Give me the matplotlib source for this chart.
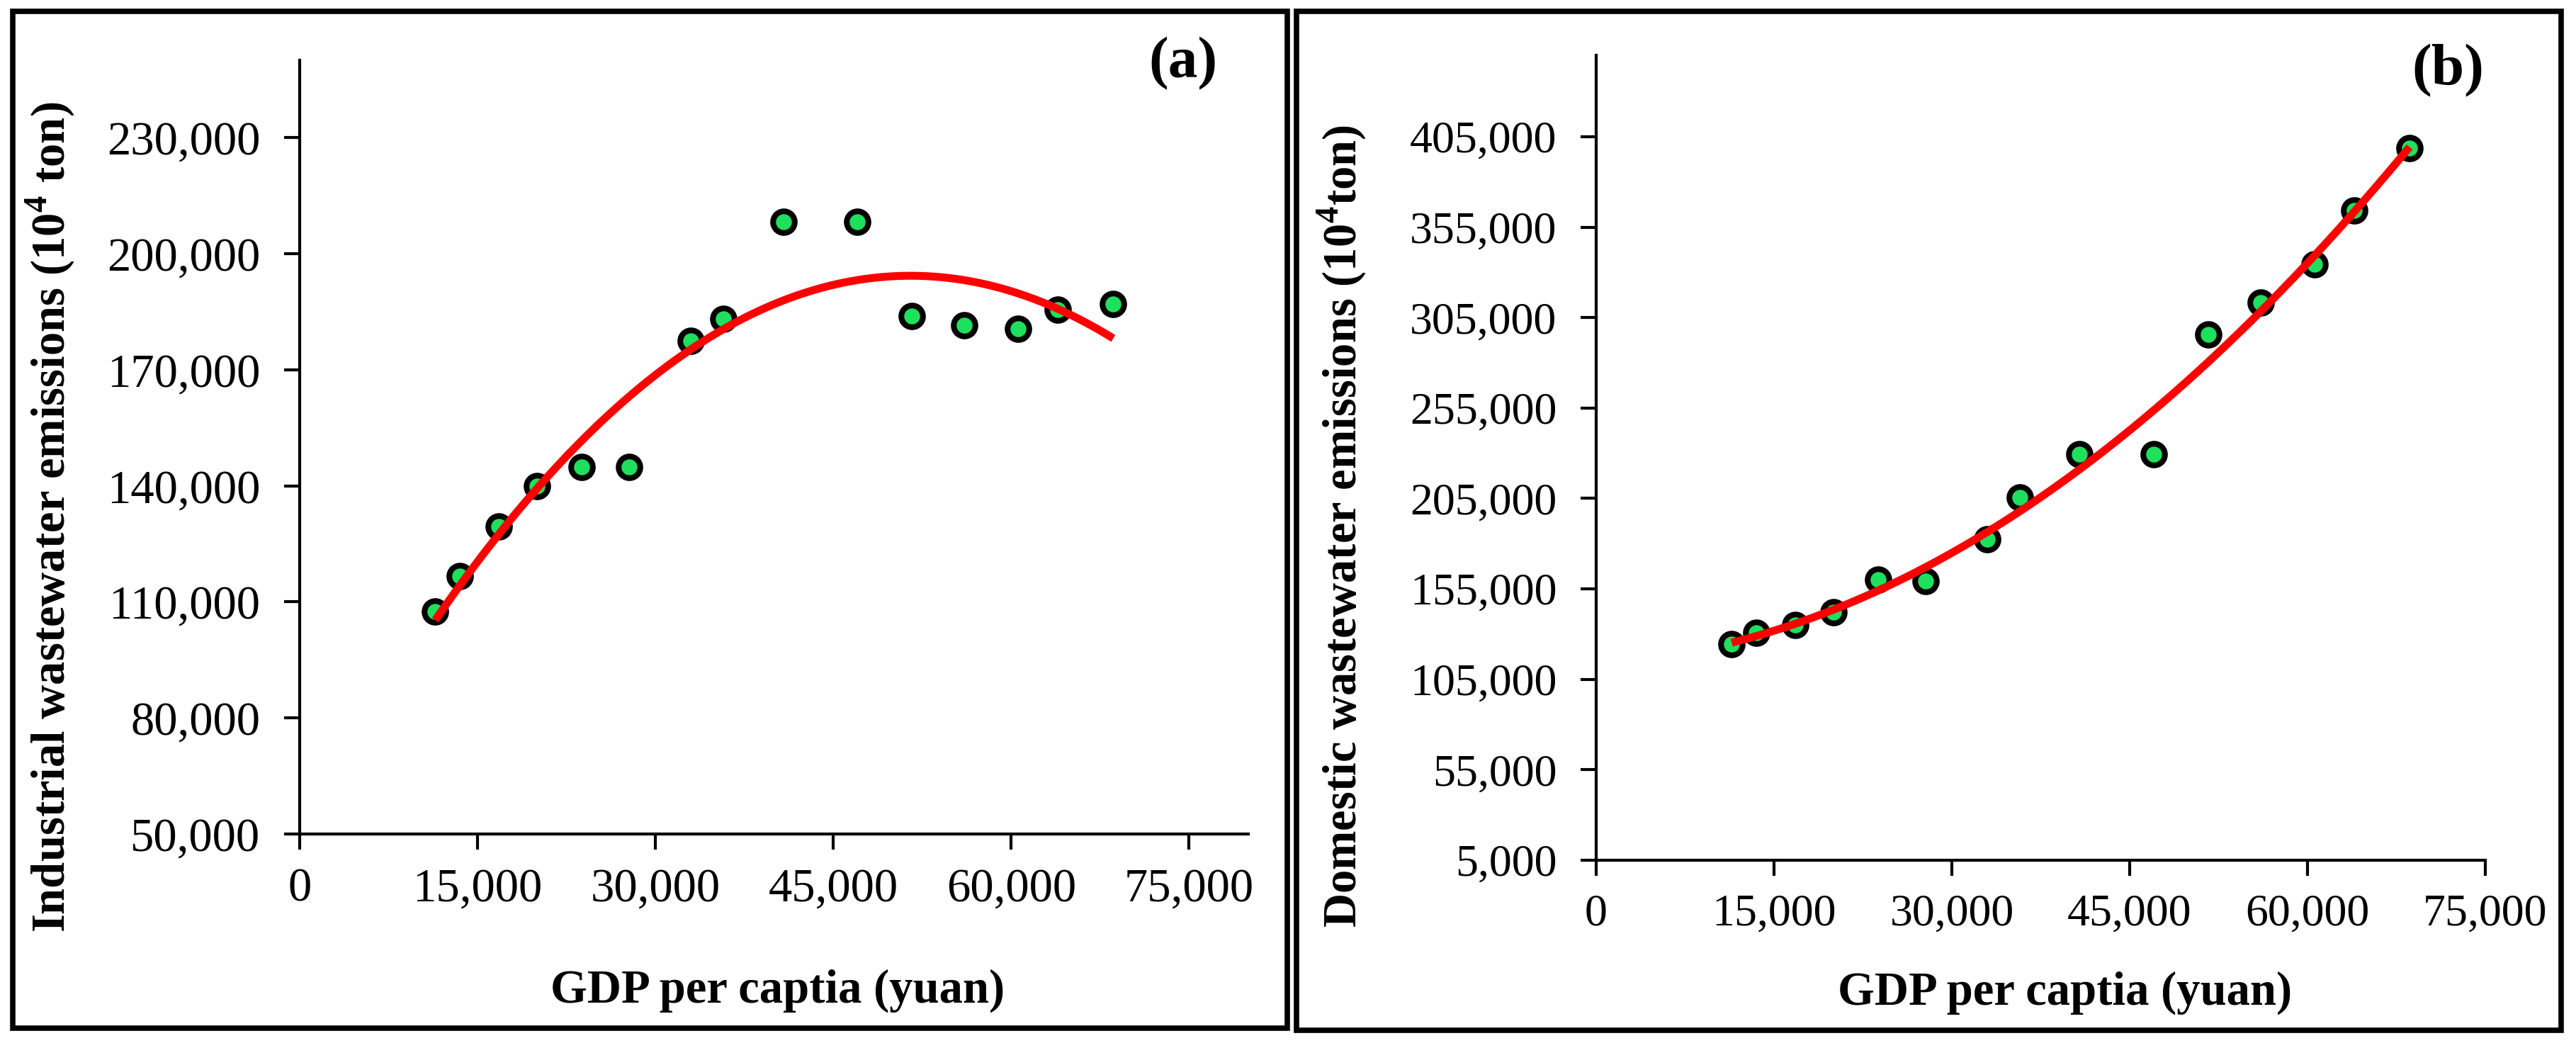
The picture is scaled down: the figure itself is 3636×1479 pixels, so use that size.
import matplotlib
matplotlib.use("Agg")
import matplotlib.pyplot as plt
import numpy as np
from matplotlib.patches import Rectangle
from matplotlib.ticker import FuncFormatter

plt.rcParams['font.family'] = ['Liberation Serif', 'DejaVu Serif']
plt.rcParams['mathtext.fontset'] = 'custom'
plt.rcParams['mathtext.rm'] = 'Liberation Serif:bold'
plt.rcParams['mathtext.bf'] = 'Liberation Serif:bold'

# GDP per capita (yuan), same for both panels
gdp = [11430, 13510, 16810, 20040, 23760, 27760, 32970, 35750,
       40780, 47030, 51620, 56070, 60580, 63950, 68610]
# (a) industrial wastewater emissions (10^4 ton)
industrial = [107500, 116600, 129500, 139900, 144800, 144800, 177500, 183200,
              208300, 208300, 183900, 181500, 180600, 185500, 187000]
# (b) domestic wastewater emissions (10^4 ton)
domestic = [124600, 130600, 135000, 142000, 160200, 159400, 182400, 205400,
            229400, 229400, 295700, 313100, 334300, 364300, 398700]

xticks_a = [0, 15000, 30000, 45000, 60000, 75000]
yticks_a = [50000, 80000, 110000, 140000, 170000, 200000, 230000]
xticks_b = [0, 15000, 30000, 45000, 60000, 75000]
yticks_b = [5000, 55000, 105000, 155000, 205000, 255000, 305000, 355000, 405000]

W, H = 3637, 1479
fig = plt.figure(figsize=(W / 100, H / 100), dpi=100)

def px(x0, y0, x1, y1):
    # pixel box (top-left origin) -> figure fraction rect
    return [x0 / W, 1 - y1 / H, (x1 - x0) / W, (y1 - y0) / H]

comma = FuncFormatter(lambda v, p: f"{int(v):,}")

def style(ax, fs):
    for s in ['top', 'right']:
        ax.spines[s].set_visible(False)
    for s in ['left', 'bottom']:
        ax.spines[s].set_linewidth(3)
    ax.tick_params(direction='out', length=16, width=3, labelsize=fs)
    ax.tick_params(axis='y', pad=24)
    ax.tick_params(axis='x', pad=18)
    ax.xaxis.set_major_formatter(comma)
    ax.yaxis.set_major_formatter(comma)

def panel(ax, x, y, xlim, ylim, xt, yt, fs):
    x = np.array(x, float)
    y = np.array(y, float)
    c = np.polyfit(x, y, 2)
    xs = np.linspace(x.min(), x.max(), 200)
    ax.plot(x, y, 'o', ms=22, mfc='#1EE05C', mec='black', mew=5.8,
            zorder=3, clip_on=False)
    ax.plot(xs, np.polyval(c, xs), color='#FF0000', lw=8, zorder=4,
            solid_capstyle='butt')
    ax.set_xlim(*xlim)
    ax.set_ylim(*ylim)
    ax.set_xticks(xt)
    ax.set_yticks(yt)
    style(ax, fs)

ax1 = fig.add_axes(px(423, 85, 1762, 1177))
panel(ax1, gdp, industrial, (0, 80000), (50000, 250000), xticks_a, yticks_a, 48)

ax2 = fig.add_axes(px(2253, 78, 3508, 1214))
panel(ax2, gdp, domestic, (0, 75000), (5000, 450000), xticks_b, yticks_b, 46)

# labels
fig.text(71 / W, 1 - 730 / H, r'Industrial wastewater emissions (10$^{4}$ ton)',
         rotation=90, ha='center', va='center', fontsize=48, fontweight='bold')
fig.text(1894 / W, 1 - 742 / H, r'Domestic wastewater emissions (10$^{4}$ton)',
         rotation=90, ha='center', va='center', fontsize=48, fontweight='bold')
fig.text(1098 / W, 1 - 1398 / H, 'GDP per captia (yuan)',
         ha='center', va='center', fontsize=48, fontweight='bold')
fig.text(2915 / W, 1 - 1401 / H, 'GDP per captia (yuan)',
         ha='center', va='center', fontsize=48, fontweight='bold')
fig.text(1670 / W, 1 - 90 / H, '(a)', ha='center', va='center',
         fontsize=60, fontweight='bold')
fig.text(3455 / W, 1 - 100 / H, '(b)', ha='center', va='center',
         fontsize=60, fontweight='bold')

# panel frames
for (x0, y0, x1, y1) in [(18, 16, 1817, 1451), (1830, 16, 3615, 1454)]:
    fig.patches.append(Rectangle((x0 / W, 1 - y1 / H), (x1 - x0) / W, (y1 - y0) / H,
                                 transform=fig.transFigure, fill=False,
                                 edgecolor='black', linewidth=5.5))

fig.savefig('out.png', dpi=100)
